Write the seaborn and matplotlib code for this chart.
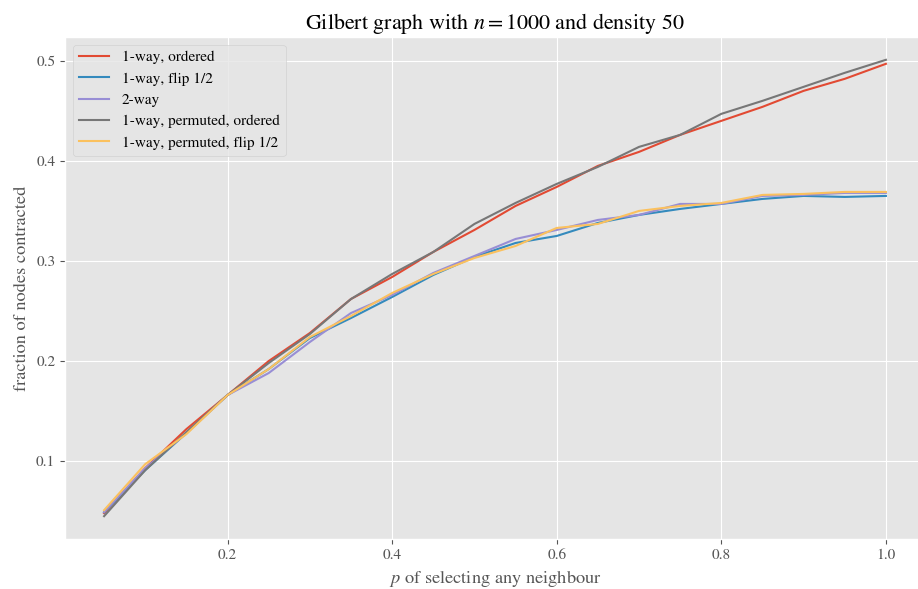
import matplotlib
matplotlib.use("Agg")
import matplotlib.pyplot as plt
import seaborn as sns
import pandas as pd
import numpy as np

p_values = [0.05, 0.10, 0.15, 0.20, 0.25, 0.30, 0.35, 0.40, 0.45, 0.50,
            0.55, 0.60, 0.65, 0.70, 0.75, 0.80, 0.85, 0.90, 0.95, 1.00]

one_way_ordered = [0.048, 0.093, 0.132, 0.166, 0.200, 0.228, 0.262, 0.284, 0.309, 0.331,
                   0.355, 0.374, 0.395, 0.409, 0.426, 0.440, 0.454, 0.470, 0.482, 0.497]
one_way_flip = [0.049, 0.091, 0.128, 0.166, 0.192, 0.223, 0.243, 0.264, 0.286, 0.304,
                0.318, 0.325, 0.338, 0.346, 0.352, 0.357, 0.362, 0.365, 0.364, 0.365]
two_way = [0.049, 0.093, 0.128, 0.166, 0.188, 0.219, 0.248, 0.266, 0.288, 0.305,
           0.322, 0.331, 0.341, 0.346, 0.357, 0.357, 0.365, 0.366, 0.368, 0.368]
one_way_perm_ordered = [0.045, 0.091, 0.129, 0.166, 0.198, 0.227, 0.262, 0.287, 0.309, 0.337,
                        0.358, 0.377, 0.394, 0.414, 0.426, 0.447, 0.460, 0.474, 0.488, 0.501]
one_way_perm_flip = [0.051, 0.097, 0.127, 0.166, 0.192, 0.224, 0.245, 0.268, 0.287, 0.303,
                     0.315, 0.333, 0.337, 0.350, 0.355, 0.358, 0.366, 0.367, 0.369, 0.369]

labels = ["1-way, ordered", "1-way, flip 1/2", "2-way",
          "1-way, permuted, ordered", "1-way, permuted, flip 1/2"]
series = [one_way_ordered, one_way_flip, two_way, one_way_perm_ordered, one_way_perm_flip]
colors = ["#E24A33", "#348ABD", "#988ED5", "#777777", "#FBC15E"]

rows = []
for lab, vals in zip(labels, series):
    for p, v in zip(p_values, vals):
        rows.append({"p": p, "frac": v, "method": lab})
df = pd.DataFrame(rows)

plt.style.use("ggplot")
plt.rcParams["font.family"] = ["STIXGeneral", "DejaVu Serif"]
plt.rcParams["mathtext.fontset"] = "stix"
plt.rcParams["font.size"] = 11

fig = plt.figure(figsize=(9.18, 5.89), dpi=100)
ax = fig.add_axes([65/918, (589-539)/589, (925-65)/918, (539-37)/589])
sns.lineplot(data=df, x="p", y="frac", hue="method", hue_order=labels,
             palette=colors, ax=ax, linewidth=1.5)
ax.set_xlim(0.0025, 1.0475)
ax.set_xticks([0.2, 0.4, 0.6, 0.8, 1.0])
ax.set_yticks([0.1, 0.2, 0.3, 0.4, 0.5])
ax.set_xlabel("$p$ of selecting any neighbour")
ax.set_ylabel("fraction of nodes contracted")
ax.set_title("Gilbert graph with $n = 1000$ and density 50")
leg = ax.legend(loc="upper left", title=None)
fig.savefig("out.png", dpi=100)
